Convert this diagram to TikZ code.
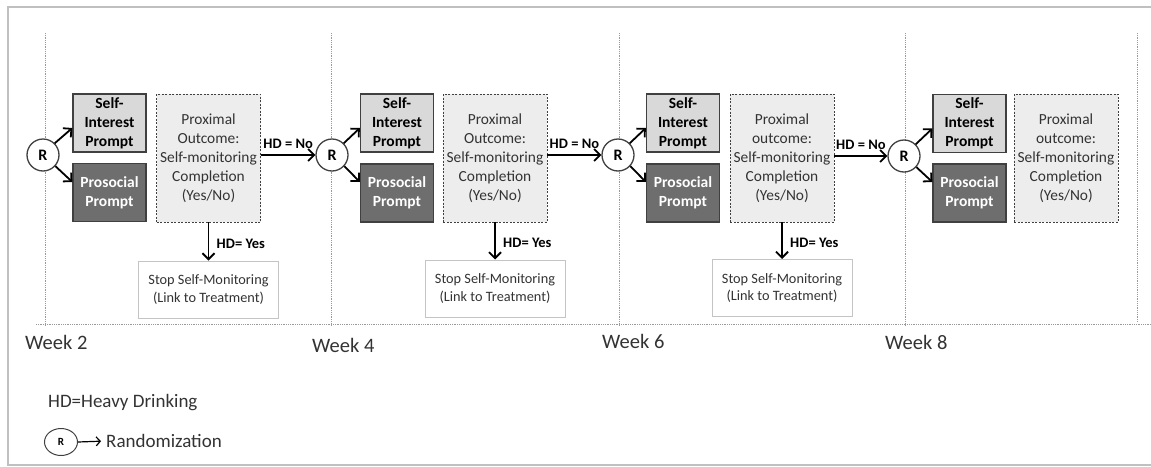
\documentclass[tikz,border=0pt]{standalone}
\usepackage{fontspec}
\setmainfont{Carlito}
\usepackage{tikz}
\usetikzlibrary{shapes,arrows.meta}
\definecolor{boxline}{HTML}{404040}
\definecolor{sifill}{HTML}{D9D9D9}
\definecolor{psfill}{HTML}{6E6E6E}
\definecolor{pofill}{HTML}{EDEDED}
\definecolor{stopline}{HTML}{C4C4C4}
\definecolor{textgray}{HTML}{333333}
\definecolor{gridline}{HTML}{9A9A9A}
\definecolor{framegray}{HTML}{C0C0C0}
\tikzstyle{rnd} = [draw=boxline, fill=white, circle, line width=1.3pt, minimum size=32pt, inner sep=0pt, font=\bfseries\fontsize{16}{18}\selectfont]
\tikzstyle{sibox} = [draw=boxline, fill=sifill, line width=1.3pt, minimum width=73pt, minimum height=58pt, inner sep=0pt, align=center, font=\bfseries\fontsize{15.5}{19}\selectfont]
\tikzstyle{psbox} = [sibox, fill=psfill, text=white]
\tikzstyle{pobox} = [draw=boxline, dash pattern=on 2pt off 1.5pt, fill=pofill, line width=0.9pt, minimum width=104pt, minimum height=128pt, inner sep=0pt, align=center, text=textgray, font=\fontsize{15.4}{19}\selectfont]
\tikzstyle{stopbox} = [draw=stopline, fill=white, line width=1pt, minimum width=140pt, minimum height=57pt, inner sep=0pt, align=center, text=textgray, font=\fontsize{14.3}{17.5}\selectfont]
\tikzstyle{arr} = [->, line width=1.8pt, black]
\tikzstyle{hdlbl} = [font=\bfseries\fontsize{14.5}{17}\selectfont]
\tikzstyle{weeklbl} = [anchor=west, inner sep=0pt, text=textgray, font=\fontsize{20.5}{24}\selectfont]
\tikzstyle{keytxt} = [anchor=west, inner sep=0pt, text=textgray, font=\fontsize{19}{22}\selectfont]
\tikzstyle{grid} = [draw=gridline, densely dotted, line width=0.8pt]

\begin{document}
\begin{tikzpicture}[x=1pt,y=-1pt,>={Straight Barb[length=6pt,width=12pt]}]
\useasboundingbox (0,0) rectangle (1151,466);

\draw[draw=framegray, line width=1.2pt] (1151,7) -- (8,7) -- (8,465) -- (1151,465);
\draw[grid] (45,33) -- (45,325);
\draw[grid] (331,33) -- (331,325);
\draw[grid] (619,33) -- (619,325);
\draw[grid] (905,33) -- (905,326);
\draw[grid] (1137,33) -- (1137,322);
\draw[grid] (36,324) -- (1151,324);

\node[rnd] (r1) at (43,155) {R};
\node[sibox] (si1) at (109.5,123) {Self-\\Interest\\Prompt};
\node[psbox] (ps1) at (109.5,192.5) {Prosocial\\Prompt};
\node[pobox] (po1) at (208.5,158) {Proximal\\Outcome:\\Self-monitoring\\Completion\\(Yes/No)};
\node[stopbox] (stop1) at (208.5,289.5) {Stop Self-Monitoring\\(Link to Treatment)};

\node[rnd] (r2) at (332,155) {R};
\node[sibox] (si2) at (397,123) {Self-\\Interest\\Prompt};
\node[psbox] (ps2) at (397,193) {Prosocial\\Prompt};
\node[pobox] (po2) at (495,158) {Proximal\\Outcome:\\Self-monitoring\\Completion\\(Yes/No)};
\node[stopbox] (stop2) at (495,288.5) {Stop Self-Monitoring\\(Link to Treatment)};

\node[rnd] (r3) at (618,155) {R};
\node[sibox] (si3) at (683,123) {Self-\\Interest\\Prompt};
\node[psbox] (ps3) at (683,193) {Prosocial\\Prompt};
\node[pobox] (po3) at (782,158) {Proximal\\outcome:\\Self-monitoring\\Completion\\(Yes/No)};
\node[stopbox] (stop3) at (782,288) {Stop Self-Monitoring\\(Link to Treatment)};

\node[rnd] (r4) at (904,156) {R};
\node[sibox] (si4) at (969.5,123.5) {Self-\\Interest\\Prompt};
\node[psbox] (ps4) at (969.5,193) {Prosocial\\Prompt};
\node[pobox] (po4) at (1066,158) {Proximal\\outcome:\\Self-monitoring\\Completion\\(Yes/No)};

\draw[arr] (r1.45) -- ([yshift=-5pt]si1.west);
\draw[arr] (r1.-42) -- ([yshift=10.5pt]ps1.west);
\draw[arr] (r2.45) -- ([yshift=-5pt]si2.west);
\draw[arr] (r2.-42) -- ([yshift=11pt]ps2.west);
\draw[arr] (r3.45) -- ([yshift=-5pt]si3.west);
\draw[arr] (r3.-42) -- ([yshift=11pt]ps3.west);
\draw[arr] (r4.45) -- ([yshift=-5pt]si4.west);
\draw[arr] (r4.-42) -- ([yshift=11pt]ps4.west);

\draw[arr] (po1.east |- r2.center) -- node[hdlbl, above, yshift=2pt] {HD = No} (r2);
\draw[arr] (po2.east |- r3.center) -- node[hdlbl, above, yshift=2pt] {HD = No} (r3);
\draw[arr] (po3.east |- r4.center) -- node[hdlbl, above, yshift=2pt] {HD = No} (r4);

\draw[arr] (po1.south) -- node[hdlbl, right=4pt, yshift=-2pt] {HD= Yes} (stop1.north);
\draw[arr] (po2.south) -- node[hdlbl, right=4pt, yshift=-2pt] {HD= Yes} (stop2.north);
\draw[arr] (po3.south) -- node[hdlbl, right=4pt, yshift=-2pt] {HD= Yes} (stop3.north);

\node[weeklbl] (wk2) at (25,342) {Week 2};
\node[weeklbl] (wk4) at (312,345) {Week 4};
\node[weeklbl] (wk6) at (602,341) {Week 6};
\node[weeklbl] (wk8) at (885,342) {Week 8};

\node[keytxt] (hdkey) at (48,403) {HD=Heavy Drinking};
\node[draw=boxline, ellipse, line width=1pt, minimum width=33pt, minimum height=27pt, inner sep=0pt, font=\bfseries\fontsize{11}{13}\selectfont] (rkey) at (61,442) {R};
\node[keytxt] (rkeytxt) at (106,441) {Randomization};
\draw[->, line width=1.2pt, shorten >=5pt, >={Straight Barb[length=4pt,width=9pt]}] (rkey.east) -- (rkeytxt.west);
\end{tikzpicture}
\end{document}
